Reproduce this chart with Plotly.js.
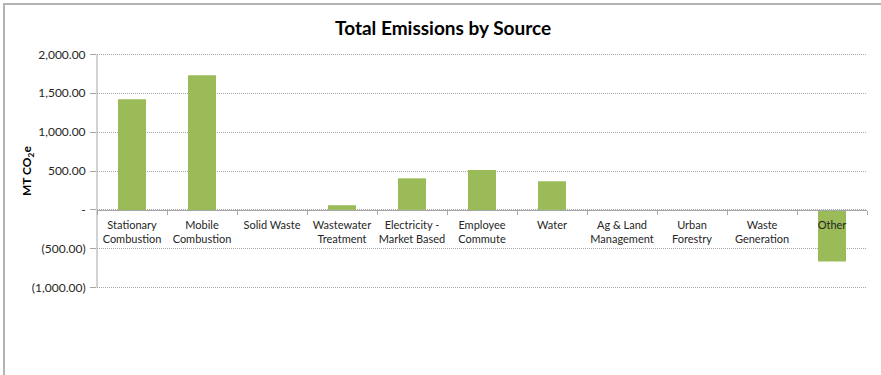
<!DOCTYPE html>
<html>
<head>
<meta charset="utf-8">
<script src="https://cdn.plot.ly/plotly-3.0.1.min.js"></script>
<style>
  html, body { margin: 0; padding: 0; background: #ffffff; }
  #wrap { position: relative; width: 881px; height: 375px; overflow: hidden; }
  #chart { position: absolute; left: 0; top: 0; width: 881px; height: 375px; }
  #frame { position: absolute; left: 3px; top: 3px; width: 890px; height: 390px;
           border-left: 2px solid #b4b4b4; border-top: 2px solid #b4b4b4; pointer-events: none; }
</style>
</head>
<body>
<div id="wrap">
  <div id="chart"></div>
  <div id="frame"></div>
</div>
<script>
const categories = [
  "Stationary<br>Combustion",
  "Mobile<br>Combustion",
  "Solid Waste",
  "Wastewater<br>Treatment",
  "Electricity -<br>Market Based",
  "Employee<br>Commute",
  "Water",
  "Ag & Land<br>Management",
  "Urban<br>Forestry",
  "Waste<br>Generation",
  "Other"
];
const emissions = [1423, 1731, 0, 60, 406, 513, 368, 0, 0, 0, -663];
const yTickVals = [-1000, -500, 0, 500, 1000, 1500, 2000];
const yTickText = ["(1,000.00)", "(500.00)", "-", "500.00", "1,000.00", "1,500.00", "2,000.00"];
const chartTitle = "Total Emissions by Source";
const yTitle = "MT CO<sub>2</sub>e";

const FONT = "Lato, 'Open Sans', sans-serif";

const trace = {
  type: "bar",
  x: categories,
  y: emissions,
  marker: { color: "#9bbb59", line: { width: 0 } },
  hoverinfo: "none"
};

const yMin = -1000, yMax = 2000;
const pad = 30;
const pxPerUnit = 0.078;

const layout = {
  width: 881,
  height: 375,
  margin: { l: 97, r: 14, t: 54 - pxPerUnit * pad, b: 87 - pxPerUnit * pad, autoexpand: false },
  paper_bgcolor: "#ffffff",
  plot_bgcolor: "#ffffff",
  showlegend: false,
  bargap: 0.6,
  font: { family: FONT, size: 11, color: "#262626" },
  title: {
    text: "<b>" + chartTitle + "</b>",
    font: { family: FONT, size: 19, color: "#000000" },
    x: 0.503, xref: "container", xanchor: "center",
    y: 1 - 28 / 375, yref: "container", yanchor: "middle"
  },
  xaxis: {
    type: "category",
    range: [-0.5, categories.length - 0.5],
    anchor: "free",
    position: (0 - (yMin - pad)) / ((yMax + pad) - (yMin - pad)),
    showline: true,
    linecolor: "#a6a6a6",
    linewidth: 1,
    ticks: "outside",
    tickson: "boundaries",
    ticklen: 4,
    tickcolor: "#a6a6a6",
    ticklabelstandoff: 5,
    showgrid: false,
    zeroline: false,
    tickangle: 0,
    tickfont: { family: FONT, size: 11, color: "#262626" },
    automargin: false,
    fixedrange: true
  },
  yaxis: {
    range: [yMin - pad, yMax + pad],
    tickvals: yTickVals,
    ticktext: yTickText,
    showline: false,
    ticks: "outside",
    ticklen: 6,
    tickcolor: "#a6a6a6",
    ticklabelstandoff: 2,
    showgrid: true,
    gridcolor: "#a8a8a8",
    griddash: "1px,1px",
    gridwidth: 1,
    zeroline: false,
    tickfont: { family: FONT, size: 12, color: "#262626" },
    automargin: false,
    fixedrange: true
  },
  shapes: [{
    type: "line",
    xref: "paper", yref: "y",
    x0: 0, x1: 0, y0: yMin, y1: yMax,
    line: { color: "#a6a6a6", width: 1 },
    layer: "above"
  }],
  annotations: [{
    text: "<b>" + yTitle + "</b>",
    xref: "paper", yref: "paper",
    x: 0, y: 0.5,
    xanchor: "center", yanchor: "middle",
    xshift: -70,
    textangle: -90,
    showarrow: false,
    font: { family: FONT, size: 12, color: "#000000" }
  }]
};

Plotly.newPlot("chart", [trace], layout, { staticPlot: true, displayModeBar: false });
</script>
</body>
</html>
